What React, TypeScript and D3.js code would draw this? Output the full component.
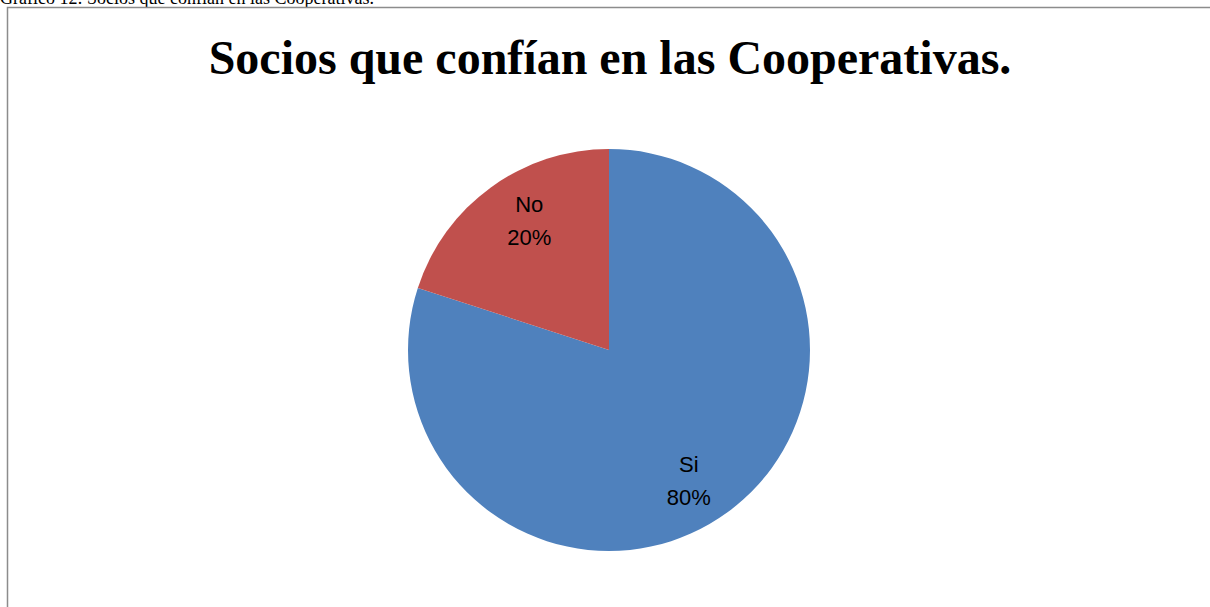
import * as d3 from "d3";
import { useEffect, useRef } from "react";

const categories = ["Si", "No"];
const values = [80, 20];
const colors = ["#4F81BD", "#C0504D"];
const title = "Socios que confían en las Cooperativas.";
const caption = "Gráfico 12: Socios que confían en las Cooperativas.";

type Slice = { name: string; value: number; color: string };

export default function App() {
  const ref = useRef<SVGSVGElement | null>(null);
  const width = 1210;
  const height = 607;

  useEffect(() => {
    const svg = d3.select(ref.current);
    svg.selectAll("*").remove();

    // caption, cut off at the top as in the page scan
    svg
      .append("text")
      .attr("x", 0)
      .attr("y", 4)
      .style("font-family", "'Liberation Serif', serif")
      .style("font-size", "18px")
      .attr("fill", "#000")
      .text(caption);

    // chart frame
    svg
      .append("rect")
      .attr("x", 7.5)
      .attr("y", 7.5)
      .attr("width", width + 10)
      .attr("height", height + 10)
      .attr("fill", "#fff")
      .attr("stroke", "#8c8c8c")
      .attr("stroke-width", 1.5);

    svg
      .append("text")
      .attr("x", 610)
      .attr("y", 74)
      .attr("text-anchor", "middle")
      .style("font-family", "'Liberation Serif', serif")
      .style("font-weight", "bold")
      .style("font-size", "48px")
      .attr("fill", "#000")
      .text(title);

    const cx = 609;
    const cy = 350;
    const radius = 201;

    const data: Slice[] = categories.map((c, i) => ({ name: c, value: values[i], color: colors[i] }));
    const pie = d3.pie<Slice>().sort(null).value((d) => d.value);
    const arcs = pie(data);
    const arc = d3.arc<d3.PieArcDatum<Slice>>().innerRadius(0).outerRadius(radius);
    const labelArc = d3
      .arc<d3.PieArcDatum<Slice>>()
      .innerRadius(radius * 0.75)
      .outerRadius(radius * 0.75);

    const g = svg.append("g").attr("transform", `translate(${cx},${cy})`);
    g.selectAll("path")
      .data(arcs)
      .join("path")
      .attr("d", arc)
      .attr("fill", (d) => d.data.color);

    const total = d3.sum(values);
    // Excel pulls the labels a bit toward the vertical axis
    const labelPos = (d: d3.PieArcDatum<Slice>) => {
      const [x, y] = labelArc.centroid(d);
      return [x * 0.9, y * 1.065];
    };
    const labels = g
      .selectAll("text")
      .data(arcs)
      .join("text")
      .attr("transform", (d) => `translate(${labelPos(d)})`)
      .attr("text-anchor", "middle")
      .style("font-family", "'Liberation Sans', 'Open Sans', sans-serif")
      .style("font-size", "22px")
      .attr("fill", "#000");
    labels.append("tspan").attr("x", 0).attr("y", -8).text((d) => d.data.name);
    labels
      .append("tspan")
      .attr("x", 0)
      .attr("y", 25)
      .text((d) => `${Math.round((d.data.value / total) * 100)}%`);
  }, []);

  return (
    <svg
      ref={ref}
      width={width}
      height={height}
      style={{ position: "absolute", left: 0, top: 0, background: "#fff" }}
    />
  );
}
